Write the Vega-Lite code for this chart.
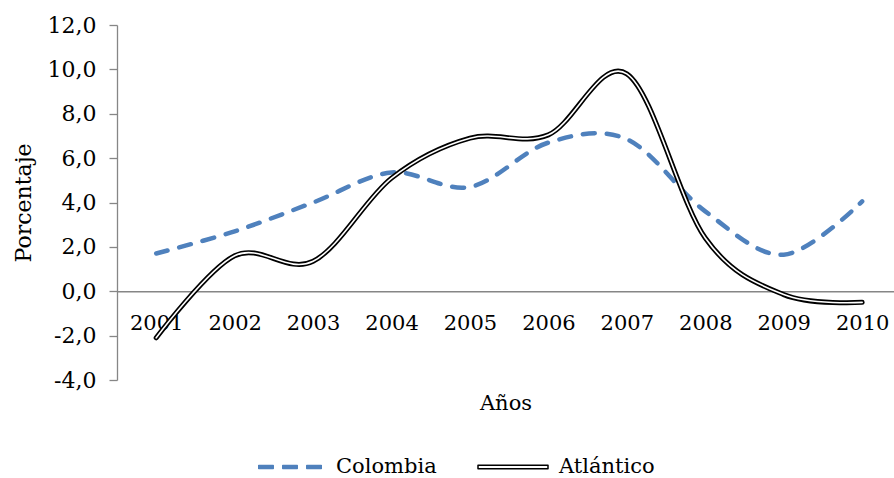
{
  "$schema": "https://vega.github.io/schema/vega-lite/v6.json",
  "width": 777,
  "height": 355,
  "autosize": {"type": "none"},
  "padding": {"left": 117, "top": 25, "right": 0, "bottom": 98},
  "background": "white",
  "data": {
    "values": [
      {"year": 2001, "serie": "Colombia", "valor": 1.7},
      {"year": 2002, "serie": "Colombia", "valor": 2.7},
      {"year": 2003, "serie": "Colombia", "valor": 4.0},
      {"year": 2004, "serie": "Colombia", "valor": 5.35},
      {"year": 2005, "serie": "Colombia", "valor": 4.7},
      {"year": 2006, "serie": "Colombia", "valor": 6.7},
      {"year": 2007, "serie": "Colombia", "valor": 6.85},
      {"year": 2008, "serie": "Colombia", "valor": 3.6},
      {"year": 2009, "serie": "Colombia", "valor": 1.65},
      {"year": 2010, "serie": "Colombia", "valor": 4.05},
      {"year": 2001, "serie": "Atlántico", "valor": -2.1},
      {"year": 2002, "serie": "Atlántico", "valor": 1.6},
      {"year": 2003, "serie": "Atlántico", "valor": 1.35},
      {"year": 2004, "serie": "Atlántico", "valor": 5.1},
      {"year": 2005, "serie": "Atlántico", "valor": 6.9},
      {"year": 2006, "serie": "Atlántico", "valor": 7.05},
      {"year": 2007, "serie": "Atlántico", "valor": 9.8},
      {"year": 2008, "serie": "Atlántico", "valor": 2.4},
      {"year": 2009, "serie": "Atlántico", "valor": -0.15},
      {"year": 2010, "serie": "Atlántico", "valor": -0.5}
    ]
  },
  "encoding": {
    "x": {
      "field": "year",
      "type": "quantitative",
      "scale": {"domain": [2000.5, 2010.406], "nice": false, "zero": false},
      "axis": {
        "title": "Años",
        "offset": -88.75,
        "values": [2001, 2001.5, 2002, 2002.5, 2003, 2003.5, 2004, 2004.5, 2005, 2005.5, 2006, 2006.5, 2007, 2007.5, 2008, 2008.5, 2009, 2009.5, 2010],
        "format": "d",
        "labelExpr": "datum.value % 1 === 0 ? datum.label : ''",
        "labelOverlap": false,
        "labelFlush": false,
        "labelBound": false,
        "tickSize": 6,
        "tickOpacity": {"condition": {"test": "datum.value % 1 !== 0", "value": 1}, "value": 0},
        "labelPadding": 15,
        "titlePadding": 59
      }
    },
    "y": {
      "field": "valor",
      "type": "quantitative",
      "scale": {"domain": [-4, 12], "nice": false, "zero": false},
      "axis": {
        "title": "Porcentaje",
        "values": [-4, -2, 0, 2, 4, 6, 8, 10, 12],
        "labelExpr": "replace(replace(format(datum.value, '.1f'), '.', ','), '\u2212', '-')",
        "labelFontSize": 22,
        "titleFontSize": 22,
        "tickSize": 8,
        "labelPadding": 13,
        "titlePadding": 12
      }
    },
    "color": {
      "field": "serie",
      "type": "nominal",
      "scale": {"domain": ["Colombia", "Atlántico"], "range": ["#4F81BD", "#000000"]},
      "legend": {
        "orient": "none",
        "legendX": 137,
        "legendY": 406,
        "direction": "horizontal",
        "title": null,
        "padding": 0,
        "labelFont": "DejaVu Serif",
        "labelFontSize": 21,
        "labelColor": "#000000",
        "symbolType": "stroke",
        "symbolSize": 4900,
        "symbolStrokeWidth": 1.5,
        "labelOffset": 10,
        "columnPadding": 40,
        "encode": {
          "symbols": {
            "update": {
              "shape": {"signal": "datum.value === 'Atlántico' ? 'M-1,-0.05H1V0.05H-1Z' : 'M-0.893,-0.043H-0.479V0.043H-0.893Z M-0.207,-0.043H0.207V0.043H-0.207Z M0.479,-0.043H0.893V0.043H0.479Z'"},
              "fill": {"signal": "datum.value === 'Atlántico' ? '#ffffff' : '#4F81BD'"},
              "stroke": {"signal": "datum.value === 'Atlántico' ? '#000000' : '#4F81BD'"},
              "strokeWidth": {"value": 1.5},
              "strokeJoin": {"value": "round"},
              "opacity": {"value": 1},
              "fillOpacity": {"value": 1},
              "strokeOpacity": {"value": 1}
            }
          }
        }
      }
    }
  },
  "layer": [
    {
      "transform": [{"filter": "datum.serie === 'Colombia'"}],
      "mark": {"type": "line", "interpolate": "cardinal", "strokeWidth": 4.5, "strokeDash": [12, 12], "strokeCap": "round", "strokeJoin": "round"}
    },
    {
      "transform": [{"filter": "datum.serie === 'Atlántico'"}],
      "mark": {"type": "line", "interpolate": "cardinal", "strokeWidth": 5, "strokeCap": "round", "strokeJoin": "round"}
    },
    {
      "transform": [{"filter": "datum.serie === 'Atlántico'"}],
      "mark": {"type": "line", "interpolate": "cardinal", "strokeWidth": 1.6, "strokeCap": "round", "strokeJoin": "round"},
      "encoding": {"color": {"value": "white"}}
    }
  ],
  "config": {
    "view": {"stroke": null},
    "axis": {
      "grid": false,
      "domainColor": "#868686",
      "domainWidth": 1.3,
      "tickColor": "#868686",
      "tickWidth": 1.3,
      "labelFont": "DejaVu Serif",
      "labelFontSize": 21,
      "labelColor": "#000000",
      "titleFont": "DejaVu Serif",
      "titleFontSize": 21,
      "titleFontWeight": "normal",
      "titleColor": "#000000"
    }
  }
}
